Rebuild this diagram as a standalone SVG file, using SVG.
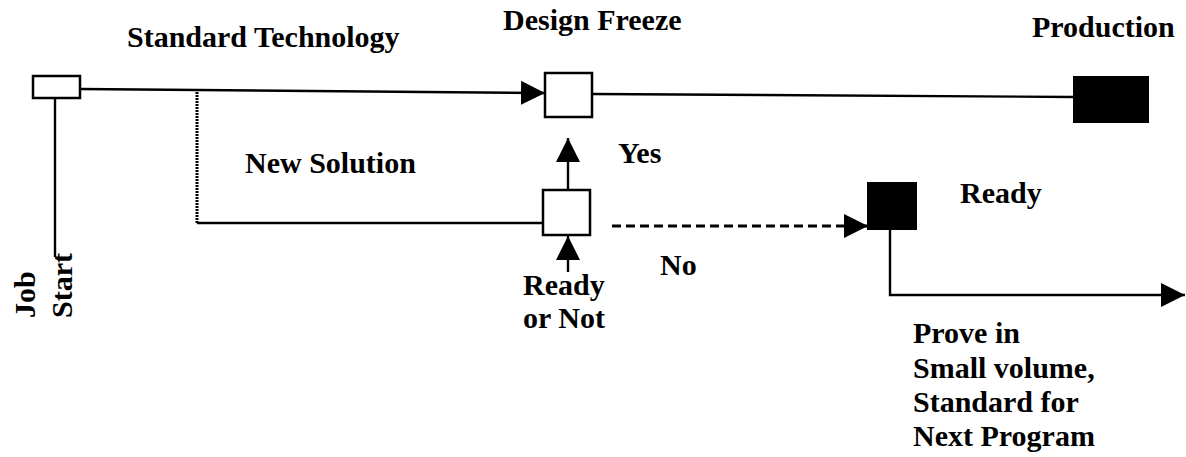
<svg xmlns="http://www.w3.org/2000/svg" width="1186" height="457" viewBox="0 0 1186 457">
<style>
text{font-family:"Liberation Serif","Times New Roman",serif;font-weight:bold;font-size:30px;fill:#000}
.box{fill:#fff;stroke:#000;stroke-width:2.5}
.solid{fill:#000;stroke:#000;stroke-width:2}
.ln{fill:none;stroke:#000;stroke-width:2.4}
.dot{fill:none;stroke:#000;stroke-width:3;stroke-dasharray:2 1}
.dash{fill:none;stroke:#000;stroke-width:3;stroke-dasharray:9 5}
</style>
<defs>
<marker id="ah" viewBox="0 0 24 24" refX="24" refY="12" markerWidth="24" markerHeight="24" markerUnits="userSpaceOnUse" orient="auto">
<path d="M0,0 L24,12 L0,24 z" fill="#000"/>
</marker>
</defs>
<rect width="1186" height="457" fill="#fff"/>
<g id="connectors">
<line class="ln" x1="80" y1="89" x2="545" y2="93" marker-end="url(#ah)"/>
<line class="ln" x1="592" y1="94" x2="1074" y2="97"/>
<line class="ln" x1="55" y1="98" x2="55" y2="257"/>
<line class="dot" x1="197" y1="92" x2="197" y2="223"/>
<line class="ln" x1="197" y1="223" x2="543" y2="223"/>
<line class="ln" x1="568" y1="190" x2="568" y2="138" marker-end="url(#ah)"/>
<line class="ln" x1="568" y1="272" x2="568" y2="236" marker-end="url(#ah)"/>
<line class="dash" x1="612" y1="226" x2="868" y2="226" marker-end="url(#ah)"/>
<polyline class="ln" points="890,229 890,295 1185,295" marker-end="url(#ah)"/>
</g>
<g id="job-start">
<rect class="box" x="33" y="76" width="47" height="22"/>
<text transform="translate(35,318) rotate(-90)">Job</text>
<text transform="translate(72,318) rotate(-90)">Start</text>
</g>
<g id="standard-technology">
<text x="127" y="47">Standard Technology</text>
</g>
<g id="design-freeze">
<rect class="box" x="545" y="73" width="47" height="44"/>
<text x="503" y="30">Design Freeze</text>
</g>
<g id="production">
<rect class="solid" x="1074" y="77" width="74" height="45"/>
<text x="1032" y="37">Production</text>
</g>
<g id="new-solution">
<text x="245" y="173">New Solution</text>
</g>
<g id="ready-or-not">
<rect class="box" x="543" y="190" width="47" height="45"/>
<text x="523" y="295">Ready</text>
<text x="523" y="328">or Not</text>
</g>
<g id="yes-label"><text x="618" y="163">Yes</text></g>
<g id="no-label"><text x="660" y="275">No</text></g>
<g id="ready">
<rect class="solid" x="868" y="183" width="48" height="46"/>
<text x="960" y="203">Ready</text>
</g>
<g id="prove">
<text x="913" y="343">Prove in</text>
<text x="913" y="378">Small volume,</text>
<text x="913" y="412">Standard for</text>
<text x="913" y="446">Next Program</text>
</g>
</svg>
